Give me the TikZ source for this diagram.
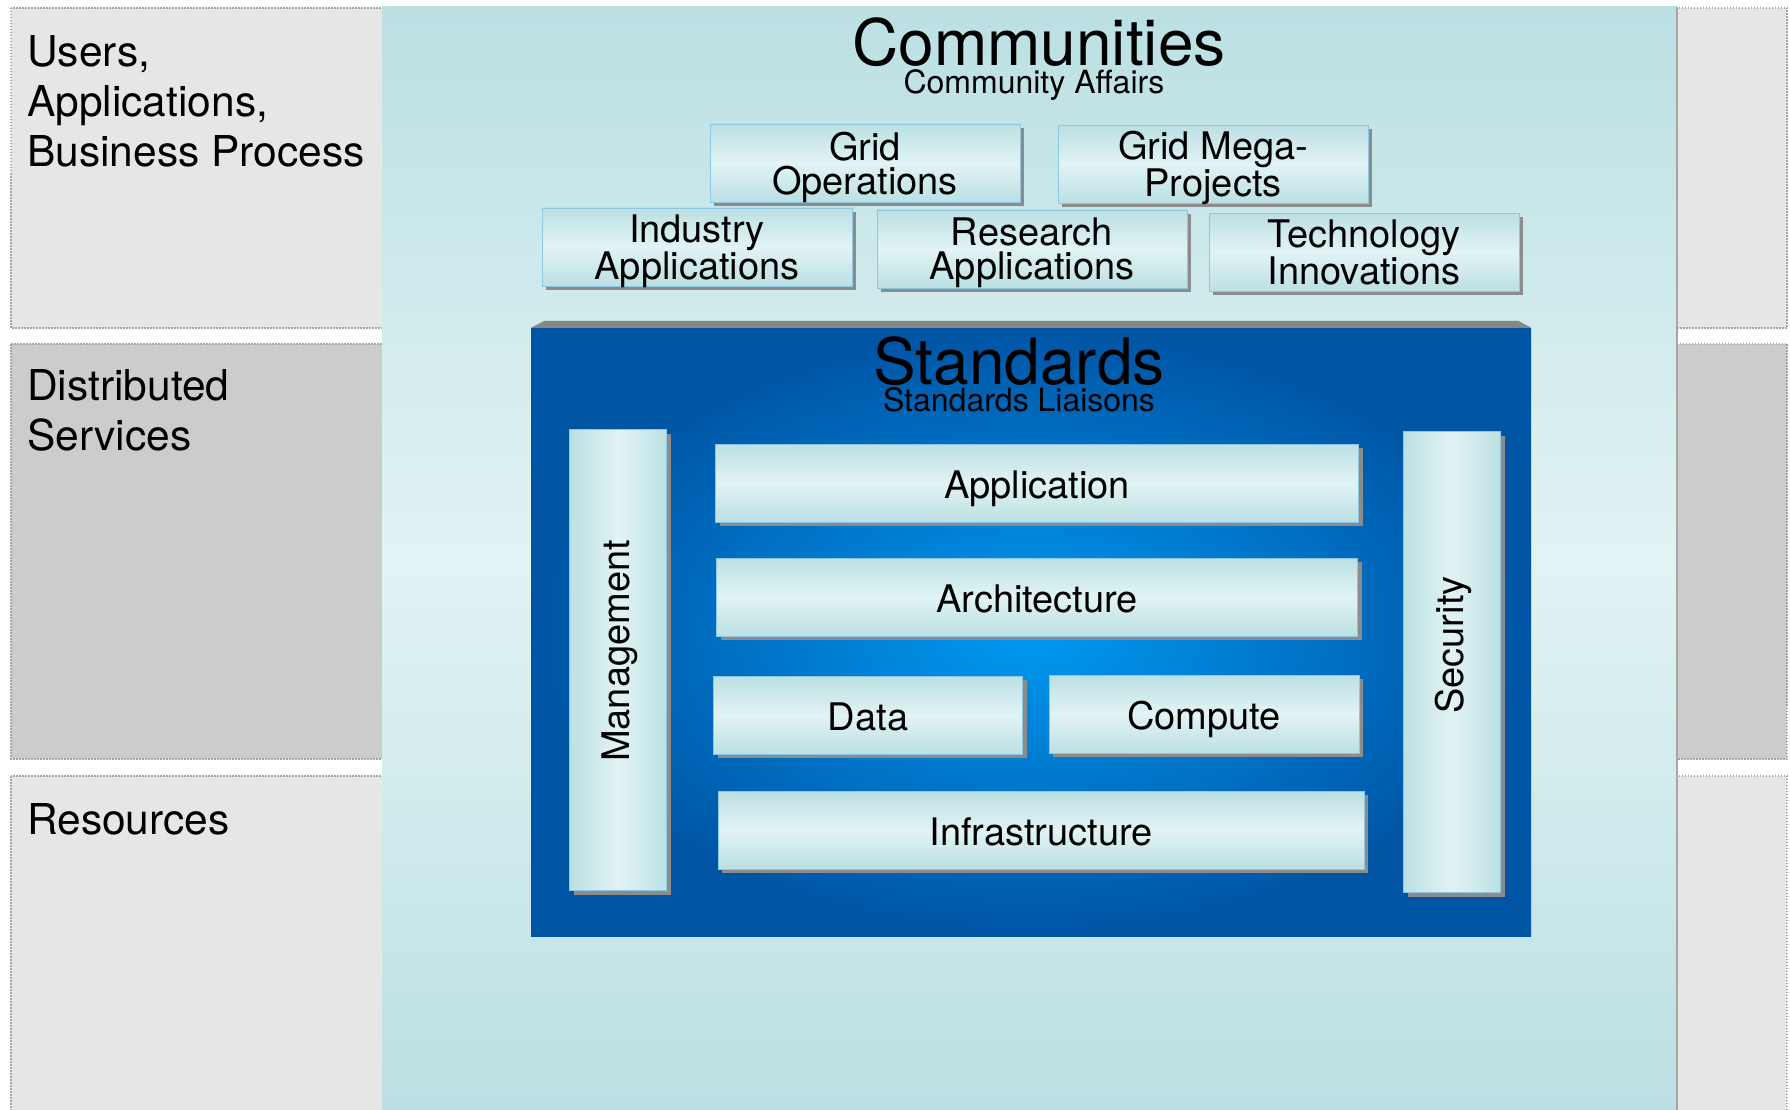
\documentclass[tikz,border=0pt]{standalone}
\usepackage{fontspec}
\setmainfont{TeX Gyre Heros}
\usetikzlibrary{shadows}

\definecolor{tealdark}{RGB}{187,224,227}
\definecolor{teallight}{RGB}{226,243,244}
\definecolor{bandlight}{RGB}{230,230,230}
\definecolor{banddark}{RGB}{204,204,204}
\definecolor{stdouter}{RGB}{0,84,164}
\definecolor{stdinner}{RGB}{0,154,242}
\definecolor{edgeblue}{RGB}{140,200,228}

\begin{document}
\begin{tikzpicture}[x=1pt,y=-1pt,
    band/.style={draw=gray!70,dash pattern=on 1.5pt off 1.5pt,line width=1.5pt},
    bar/.style={inner sep=0pt,align=center,minimum width=310pt,minimum height=78pt,
        top color=tealdark,bottom color=tealdark,middle color=teallight,
        draw=edgeblue,line width=0.6pt,text depth=0pt,
        drop shadow={shadow xshift=4pt,shadow yshift=-4pt,fill=black!45,opacity=1},
        font=\fontsize{38}{34}\selectfont},
    onebar/.style={bar,text height=31pt},
    pillar/.style={bar,minimum width=97pt,minimum height=461pt,
        left color=tealdark,right color=tealdark,middle color=teallight},
    vlabel/.style={rotate=90,inner sep=0pt,font=\fontsize{38}{38}\selectfont},
    stdbox/.style={inner sep=0pt,minimum width=1000pt,minimum height=608pt,
        inner color=stdinner,outer color=stdouter},
    title/.style={anchor=base,inner sep=0pt,font=\fontsize{64}{64}\selectfont},
    subtitle/.style={anchor=base,inner sep=0pt,font=\fontsize{32}{32}\selectfont},
    layer/.style={anchor=north west,inner sep=0pt,align=left,font=\fontsize{42.5}{50}\selectfont}]
  \useasboundingbox (0,0) rectangle (1790,1110);
  \fill[white] (0,0) rectangle (1790,1110);

  % layer bands
  \draw[band,fill=bandlight] (11,8) rectangle (1787,328);
  \draw[band,fill=banddark] (11,344) rectangle (1787,759);
  \draw[band,fill=bandlight] (11,776) rectangle (1787,1114);
  \node[layer] (users) at (27,35) {Users,\\Applications,\\Business Process};
  \node[layer] (services) at (27,369) {Distributed\\Services};
  \node[layer] (resources) at (27,803) {Resources};

  % communities
  \fill[top color=tealdark,bottom color=tealdark,middle color=teallight] (382,7) rectangle (1677,1110);
  \draw[black!35,line width=2pt] (1677,7) -- (1677,1110);
  \node[title] (communities) at (1039,66) {Communities};
  \node[subtitle] (affairs) at (1034,94) {Community Affairs};
  \node[bar] (gridops) at (865,163) {Grid\\Operations};
  \node[bar] (megaproj) at (1213,164) {Grid Mega-\\Projects};
  \node[bar] (industry) at (697,247) {Industry\\Applications};
  \node[bar] (research) at (1032,249) {Research\\Applications};
  \node[bar] (techinno) at (1364,252) {Technology\\Innovations};

  % standards
  \node[stdbox] (standards) at (1031,632) {};
  \fill[black!47] (standards.north west) -- ([shift={(14,-7)}]standards.north west)
    -- ([shift={(-13,-7)}]standards.north east) -- (standards.north east) -- cycle;
  \node[title] (stdtitle) at (1019,384) {Standards};
  \node[subtitle] (liaisons) at (1019,411) {Standards Liaisons};
  \node[onebar,minimum width=643pt] (application) at (1037,483) {Application};
  \node[onebar,minimum width=641pt] (architecture) at (1037,597) {Architecture};
  \node[onebar,minimum width=309pt] (data) at (868,715) {Data};
  \node[onebar] (compute) at (1204,714) {Compute};
  \node[onebar,minimum width=646pt] (infrastructure) at (1041,830) {Infrastructure};
  \node[pillar] (management) at (618,660) {};
  \node[pillar] (security) at (1452,662) {};
  \node[vlabel] (mgmtlabel) at ([shift={(2,-9)}]management.center) {Management};
  \node[vlabel] (seclabel) at ([shift={(1,-17)}]security.center) {Security};
\end{tikzpicture}
\end{document}
